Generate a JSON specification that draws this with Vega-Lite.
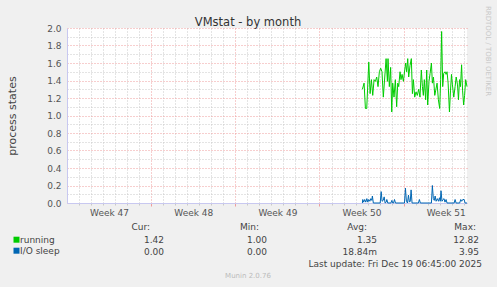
{
  "$schema": "https://vega.github.io/schema/vega-lite/v6.json",
  "autosize": {"type": "none"},
  "width": 400,
  "height": 175,
  "padding": {"left": 67, "top": 28, "right": 30, "bottom": 84},
  "background": "#F0F0F0",
  "config": {
    "font": "DejaVu Sans",
    "view": {"fill": "white", "stroke": null},
    "legend": {"padding": 0, "offset": 0}
  },
  "datasets": {
    "series": [
      {"series":"running","day":24.57,"value":1.30},{"series":"running","day":24.71,"value":1.37},{"series":"running","day":24.82,"value":1.08},{"series":"running","day":24.93,"value":1.08},{"series":"running","day":25.10,"value":1.61},{"series":"running","day":25.21,"value":1.25},{"series":"running","day":25.32,"value":1.41},{"series":"running","day":25.43,"value":1.23},{"series":"running","day":25.54,"value":1.41},{"series":"running","day":25.65,"value":1.39},{"series":"running","day":25.76,"value":1.44},{"series":"running","day":25.87,"value":1.33},{"series":"running","day":25.98,"value":1.50},{"series":"running","day":26.09,"value":1.54},{"series":"running","day":26.20,"value":1.50},{"series":"running","day":26.31,"value":1.21},{"series":"running","day":26.43,"value":1.44},{"series":"running","day":26.54,"value":1.65},{"series":"running","day":26.65,"value":1.39},{"series":"running","day":26.70,"value":1.65},{"series":"running","day":26.81,"value":1.33},{"series":"running","day":26.92,"value":1.55},{"series":"running","day":27.01,"value":1.04},{"series":"running","day":27.09,"value":1.37},{"series":"running","day":27.20,"value":1.21},{"series":"running","day":27.31,"value":1.41},{"series":"running","day":27.42,"value":1.10},{"series":"running","day":27.51,"value":1.37},{"series":"running","day":27.59,"value":1.33},{"series":"running","day":27.70,"value":1.50},{"series":"running","day":27.78,"value":1.41},{"series":"running","day":27.87,"value":1.47},{"series":"running","day":27.98,"value":1.39},{"series":"running","day":28.09,"value":1.52},{"series":"running","day":28.17,"value":1.60},{"series":"running","day":28.25,"value":1.50},{"series":"running","day":28.34,"value":1.65},{"series":"running","day":28.42,"value":1.44},{"series":"running","day":28.53,"value":1.57},{"series":"running","day":28.64,"value":1.65},{"series":"running","day":28.73,"value":1.25},{"series":"running","day":28.81,"value":1.41},{"series":"running","day":28.92,"value":1.21},{"series":"running","day":29.03,"value":1.27},{"series":"running","day":29.14,"value":1.23},{"series":"running","day":29.25,"value":1.30},{"series":"running","day":29.36,"value":1.21},{"series":"running","day":29.47,"value":1.52},{"series":"running","day":29.56,"value":1.33},{"series":"running","day":29.64,"value":1.23},{"series":"running","day":29.72,"value":1.41},{"series":"running","day":29.83,"value":1.18},{"series":"running","day":29.92,"value":1.52},{"series":"running","day":30.00,"value":1.12},{"series":"running","day":30.11,"value":1.39},{"series":"running","day":30.20,"value":1.48},{"series":"running","day":30.31,"value":1.60},{"series":"running","day":30.39,"value":1.37},{"series":"running","day":30.48,"value":1.44},{"series":"running","day":30.59,"value":1.23},{"series":"running","day":30.67,"value":1.29},{"series":"running","day":30.78,"value":1.37},{"series":"running","day":30.89,"value":1.18},{"series":"running","day":31.00,"value":1.08},{"series":"running","day":31.08,"value":1.41},{"series":"running","day":31.16,"value":1.96},{"series":"running","day":31.25,"value":1.33},{"series":"running","day":31.33,"value":1.48},{"series":"running","day":31.44,"value":1.50},{"series":"running","day":31.53,"value":1.47},{"series":"running","day":31.61,"value":1.50},{"series":"running","day":31.70,"value":1.37},{"series":"running","day":31.81,"value":1.04},{"series":"running","day":31.90,"value":1.29},{"series":"running","day":31.98,"value":1.47},{"series":"running","day":32.06,"value":1.35},{"series":"running","day":32.17,"value":1.21},{"series":"running","day":32.28,"value":1.33},{"series":"running","day":32.37,"value":1.44},{"series":"running","day":32.48,"value":1.35},{"series":"running","day":32.56,"value":1.18},{"series":"running","day":32.65,"value":1.41},{"series":"running","day":32.73,"value":1.33},{"series":"running","day":32.82,"value":1.58},{"series":"running","day":32.90,"value":1.29},{"series":"running","day":32.99,"value":1.12},{"series":"running","day":33.07,"value":1.23},{"series":"running","day":33.16,"value":1.41},{"series":"running","day":33.27,"value":1.33},
      {"series":"I/O sleep","day":24.57,"value":0},{"series":"I/O sleep","day":24.60,"value":0.04},{"series":"I/O sleep","day":24.68,"value":0.01},{"series":"I/O sleep","day":24.76,"value":0.04},{"series":"I/O sleep","day":24.85,"value":0.01},{"series":"I/O sleep","day":24.94,"value":0.05},{"series":"I/O sleep","day":25.02,"value":0.01},{"series":"I/O sleep","day":25.10,"value":0.04},{"series":"I/O sleep","day":25.19,"value":0.02},{"series":"I/O sleep","day":25.27,"value":0.05},{"series":"I/O sleep","day":25.35,"value":0.03},{"series":"I/O sleep","day":25.40,"value":0.08},{"series":"I/O sleep","day":25.48,"value":0},{"series":"I/O sleep","day":26.05,"value":0},{"series":"I/O sleep","day":26.13,"value":0.13},{"series":"I/O sleep","day":26.21,"value":0.02},{"series":"I/O sleep","day":26.30,"value":0.03},{"series":"I/O sleep","day":26.38,"value":0.07},{"series":"I/O sleep","day":26.46,"value":0},{"series":"I/O sleep","day":26.55,"value":0.01},{"series":"I/O sleep","day":26.60,"value":0.04},{"series":"I/O sleep","day":26.68,"value":0},{"series":"I/O sleep","day":26.94,"value":0},{"series":"I/O sleep","day":27.02,"value":0.03},{"series":"I/O sleep","day":27.10,"value":0},{"series":"I/O sleep","day":27.16,"value":0},{"series":"I/O sleep","day":27.24,"value":0.04},{"series":"I/O sleep","day":27.32,"value":0},{"series":"I/O sleep","day":28.07,"value":0},{"series":"I/O sleep","day":28.15,"value":0.17},{"series":"I/O sleep","day":28.23,"value":0.02},{"series":"I/O sleep","day":28.32,"value":0},{"series":"I/O sleep","day":28.40,"value":0.09},{"series":"I/O sleep","day":28.48,"value":0.01},{"series":"I/O sleep","day":28.55,"value":0.02},{"series":"I/O sleep","day":28.62,"value":0.15},{"series":"I/O sleep","day":28.70,"value":0},{"series":"I/O sleep","day":29.23,"value":0},{"series":"I/O sleep","day":29.31,"value":0.04},{"series":"I/O sleep","day":29.39,"value":0},{"series":"I/O sleep","day":30.31,"value":0},{"series":"I/O sleep","day":30.39,"value":0.20},{"series":"I/O sleep","day":30.47,"value":0.05},{"series":"I/O sleep","day":30.55,"value":0.03},{"series":"I/O sleep","day":30.62,"value":0.08},{"series":"I/O sleep","day":30.70,"value":0.02},{"series":"I/O sleep","day":30.80,"value":0.05},{"series":"I/O sleep","day":30.90,"value":0.02},{"series":"I/O sleep","day":30.98,"value":0.06},{"series":"I/O sleep","day":31.05,"value":0.02},{"series":"I/O sleep","day":31.11,"value":0.14},{"series":"I/O sleep","day":31.19,"value":0.02},{"series":"I/O sleep","day":31.28,"value":0.04},{"series":"I/O sleep","day":31.36,"value":0.05},{"series":"I/O sleep","day":31.44,"value":0.01},{"series":"I/O sleep","day":31.53,"value":0.04},{"series":"I/O sleep","day":31.61,"value":0},{"series":"I/O sleep","day":32.20,"value":0},{"series":"I/O sleep","day":32.28,"value":0.04},{"series":"I/O sleep","day":32.36,"value":0},{"series":"I/O sleep","day":32.66,"value":0},{"series":"I/O sleep","day":32.75,"value":0.04},{"series":"I/O sleep","day":32.83,"value":0.02},{"series":"I/O sleep","day":32.92,"value":0.04},{"series":"I/O sleep","day":33.03,"value":0.04},{"series":"I/O sleep","day":33.11,"value":0},{"series":"I/O sleep","day":33.27,"value":0}
    ],
    "texts": [
      {"kind":"table","t":"Cur:","c":0,"r":0},
      {"kind":"table","t":"Min:","c":3,"r":0},
      {"kind":"table","t":"Avg:","c":5,"r":0},
      {"kind":"table","t":"Max:","c":7,"r":0},
      {"kind":"table","t":"1.42","c":1,"r":1},
      {"kind":"table","t":"1.00","c":4,"r":1},
      {"kind":"table","t":"1.35","c":6,"r":1},
      {"kind":"table","t":"12.82","c":8,"r":1},
      {"kind":"table","t":"0.00","c":1,"r":2},
      {"kind":"table","t":"0.00","c":4,"r":2},
      {"kind":"table","t":"18.84m","c":6,"r":2},
      {"kind":"table","t":"3.95","c":8,"r":2},
      {"kind":"table","t":"Last update: Fri Dec 19 06:45:00 2025","c":9,"r":3},
      {"kind":"credit","t":"Munin 2.0.76","c":2,"r":4},
      {"kind":"title","t":"VMstat - by month","c":2,"r":-2},
      {"kind":"side","t":"RRDTOOL / TOBI OETIKER","c":10,"r":-1}
    ]
  },
  "data": {"name": "series"},
  "layer": [
    {
      "mark": {"type": "line", "strokeOpacity": 0},
      "encoding": {
        "x": {"field": "day", "type": "quantitative", "scale": {"domain": [0, 33.27], "nice": false, "zero": false},
          "axis": {"orient": "bottom", "values": [1,2,3,4,5,6,8,9,10,11,12,13,15,16,17,18,19,20,22,23,24,25,26,27,29,30,31,32,33], "grid": true, "gridColor": "#C8C8C8", "gridDash": [1, 2], "labels": false, "ticks": true, "tickSize": 2, "tickColor": "#C8C8C8", "domain": false, "title": null}},
        "y": {"field": "value", "type": "quantitative", "scale": {"domain": [0, 2], "nice": false},
          "axis": {"orient": "left", "values": [0.1,0.3,0.5,0.7,0.9,1.1,1.3,1.5,1.7,1.9], "grid": true, "gridColor": "#C8C8C8", "gridDash": [1, 2], "labels": false, "ticks": false, "domain": false, "title": null}},
        "detail": {"field": "series"}
      }
    },
    {
      "mark": {"type": "line", "strokeOpacity": 0},
      "encoding": {
        "x": {"field": "day", "type": "quantitative", "scale": {"domain": [0, 33.27], "nice": false, "zero": false},
          "axis": {"orient": "bottom", "values": [7, 14, 21, 28], "grid": true, "gridColor": "#EE9C9C", "gridDash": [1, 2], "labels": false, "ticks": true, "tickSize": 3, "tickColor": "#EE9C9C", "domain": false, "title": null}},
        "y": {"field": "value", "type": "quantitative", "scale": {"domain": [0, 2], "nice": false},
          "axis": {"orient": "left", "values": [0,0.2,0.4,0.6,0.8,1.0,1.2,1.4,1.6,1.8,2.0], "format": ".1f", "grid": true, "gridColor": "#EE9C9C", "gridDash": [1, 2], "ticks": false, "labelPadding": 6, "labelFontSize": 9, "labelColor": "#555555", "domain": true, "domainColor": "#C8C8F0",
            "title": "process states", "titleFontSize": 11, "titleFontWeight": "normal", "titleColor": "#444444", "titleX": -52, "titleY": 87.5, "titleAngle": -90, "titleAlign": "center", "titleBaseline": "alphabetic"}},
        "detail": {"field": "series"}
      }
    },
    {
      "mark": {"type": "line", "strokeOpacity": 0},
      "encoding": {
        "x": {"field": "day", "type": "quantitative", "scale": {"domain": [0, 33.27], "nice": false, "zero": false},
          "axis": {"orient": "bottom", "values": [3.5, 10.5, 17.5, 24.5, 31.5], "labelExpr": "'Week ' + (47 + floor(datum.value / 7))", "grid": false, "ticks": false, "labelPadding": 5.5, "labelFontSize": 9, "labelColor": "#555555", "domain": true, "domainColor": "#C8C8F0", "title": null}},
        "detail": {"field": "series"}
      }
    },
    {
      "mark": {"type": "line", "strokeWidth": 1},
      "encoding": {
        "x": {"field": "day", "type": "quantitative", "scale": {"domain": [0, 33.27], "nice": false, "zero": false}, "axis": null},
        "y": {"field": "value", "type": "quantitative", "scale": {"domain": [0, 2], "nice": false}, "axis": null},
        "color": {"field": "series", "type": "nominal",
          "scale": {"domain": ["running", "I/O sleep"], "range": ["#00CC00", "#0066B3"]},
          "legend": {"title": null, "orient": "none", "legendX": -55, "legendY": 207.2, "symbolType": "square", "symbolSize": 36, "symbolStrokeWidth": 0, "symbolOpacity": 1, "labelOffset": -1, "labelFontSize": 9, "labelColor": "#444444", "rowPadding": 1,
            "encode": {"symbols": {"update": {"fill": {"scale": "color", "field": "value"}, "strokeWidth": {"value": 0}}}}}}
      }
    },
    {
      "data": {"name": "texts"},
      "transform": [{"filter": "datum.kind == 'table'"}],
      "mark": {"type": "text", "align": "right", "baseline": "alphabetic", "fontSize": 9, "color": "#444444"},
      "encoding": {
        "x": {"field": "c", "type": "quantitative", "scale": {"domain": [0,1,2,3,4,5,6,7,8,9,10], "range": [83,97,181,192,200,300,310,409,412,415,420.5]}, "axis": null},
        "y": {"field": "r", "type": "quantitative", "scale": {"domain": [-2,-1,0,1,2,3,4], "range": [-2,23,202,215,227,238.5,249.7]}, "axis": null},
        "text": {"field": "t"}
      }
    },
    {
      "data": {"name": "texts"},
      "transform": [{"filter": "datum.kind == 'credit'"}],
      "mark": {"type": "text", "align": "center", "baseline": "alphabetic", "fontSize": 7, "color": "#BBBBBB"},
      "encoding": {
        "x": {"field": "c", "type": "quantitative", "scale": {"domain": [0,1,2,3,4,5,6,7,8,9,10], "range": [83,97,181,192,200,300,310,409,412,415,420.5]}, "axis": null},
        "y": {"field": "r", "type": "quantitative", "scale": {"domain": [-2,-1,0,1,2,3,4], "range": [-2,23,202,215,227,238.5,249.7]}, "axis": null},
        "text": {"field": "t"}
      }
    },
    {
      "data": {"name": "texts"},
      "transform": [{"filter": "datum.kind == 'title'"}],
      "mark": {"type": "text", "align": "center", "baseline": "alphabetic", "fontSize": 11.5, "color": "#333333"},
      "encoding": {
        "x": {"field": "c", "type": "quantitative", "scale": {"domain": [0,1,2,3,4,5,6,7,8,9,10], "range": [83,97,181,192,200,300,310,409,412,415,420.5]}, "axis": null},
        "y": {"field": "r", "type": "quantitative", "scale": {"domain": [-2,-1,0,1,2,3,4], "range": [-2,23,202,215,227,238.5,249.7]}, "axis": null},
        "text": {"field": "t"}
      }
    },
    {
      "data": {"name": "texts"},
      "transform": [{"filter": "datum.kind == 'side'"}],
      "mark": {"type": "text", "align": "center", "baseline": "middle", "angle": 90, "fontSize": 7, "color": "#C8C8C8"},
      "encoding": {
        "x": {"field": "c", "type": "quantitative", "scale": {"domain": [0,1,2,3,4,5,6,7,8,9,10], "range": [83,97,181,192,200,300,310,409,412,415,420.5]}, "axis": null},
        "y": {"field": "r", "type": "quantitative", "scale": {"domain": [-2,-1,0,1,2,3,4], "range": [-2,23,202,215,227,238.5,249.7]}, "axis": null},
        "text": {"field": "t"}
      }
    }
  ],
  "resolve": {"scale": {"x": "independent", "y": "independent"}}
}
